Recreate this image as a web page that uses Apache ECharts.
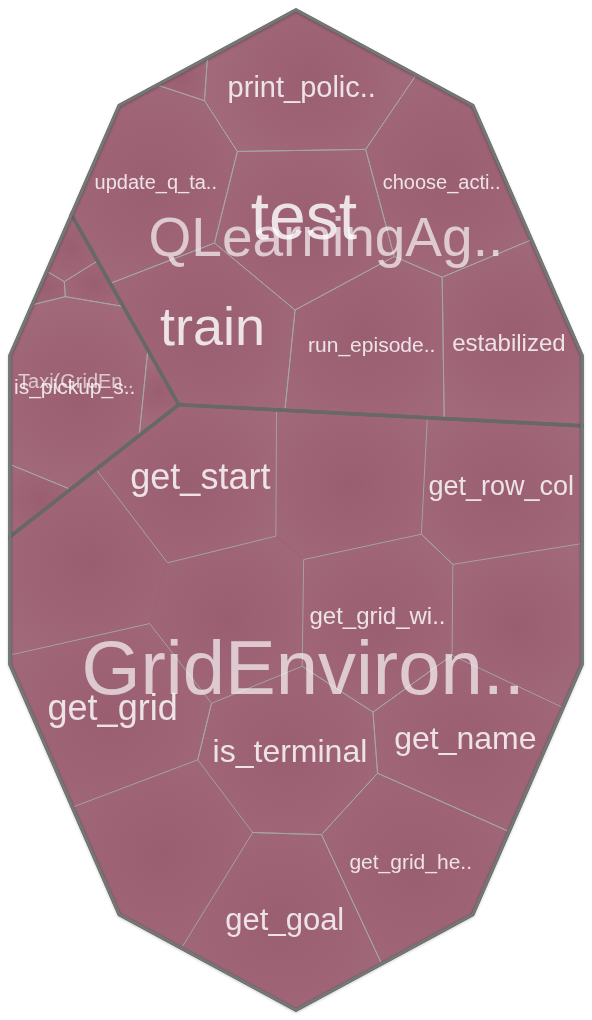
<!DOCTYPE html>
<html>
<head>
<meta charset="utf-8">
<script src="https://cdn.jsdelivr.net/npm/echarts@6/dist/echarts.min.js"></script>
<style>
  html, body { margin: 0; padding: 0; background: #ffffff; }
  #chart { width: 592px; height: 1020px; }
</style>
</head>
<body>
<div id="chart"></div>
<script>
// ------------------------------------------------------------------
// DATA (one size unit ~ one cell area)
// ------------------------------------------------------------------
const groupNames = ['QLearningAg..', 'GridEnviron..', 'Taxi(GridEn..'];

const qlearningNames  = ['', 'print_polic..', 'update_q_ta..', 'test', 'choose_acti..', 'estabilized', 'run_episode..', 'train'];
const qlearningValues = [1, 20, 21, 20, 20, 20, 20, 20];

const gridNames  = ['get_start', '', 'get_row_col', '', 'get_grid_wi..', 'get_name', 'is_terminal', 'get_grid', '', 'get_goal', 'get_grid_he..', '', ''];
const gridValues = [20, 19, 20, 16, 20, 20, 21, 23, 19, 21, 20, 19, 18];

const taxiNames  = ['', '', '', 'is_pickup_s..', '', ''];
const taxiValues = [1.6, 0.6, 1.4, 20.4, 1.5, 2.1];

// ------------------------------------------------------------------
// LAYOUT HINTS (initial generator positions for the Voronoi treemap,
// in view units; the algorithm then fits cell areas to the values)
// ------------------------------------------------------------------
const VIEW_W = 592, VIEW_H = 1020, MARGIN = 10;
const groupSeedHints = [[326, 241], [307, 672], [77, 378]];
const childSeedHints = [
  [[190, 81], [290, 92], [155, 178], [300, 221], [438, 182], [516, 341], [371, 332], [218, 328]],
  [[200, 475], [342, 491], [494, 496], [527, 626], [385, 615], [455, 736], [291, 755], [109, 703], [164, 854], [286, 918], [412, 864], [87, 567], [236, 607]],
  [[70, 254], [52, 286], [87, 283], [75, 375], [156, 393], [30, 493]]
];

// ------------------------------------------------------------------
// STYLES
// ------------------------------------------------------------------
const FONT = '"Liberation Sans", Arial, sans-serif';
const labelFontSize = {
  'QLearningAg..': 55, 'GridEnviron..': 76, 'Taxi(GridEn..': 20,
  'test': 66, 'train': 54, 'print_polic..': 29, 'update_q_ta..': 20, 'choose_acti..': 20,
  'run_episode..': 21, 'estabilized': 24, 'is_pickup_s..': 21,
  'get_start': 36, 'get_row_col': 27, 'get_grid_wi..': 24, 'get_grid': 36, 'is_terminal': 32,
  'get_name': 32, 'get_grid_he..': 21, 'get_goal': 31
};
// unlabeled large cells are drawn without an outline of their own
const OUTLINE_MIN_UNLABELED = 5;

// ------------------------------------------------------------------
// GEOMETRY: power diagram (weighted Voronoi) + Voronoi-map iteration
// ------------------------------------------------------------------
function polyArea(p) {
  let a = 0;
  for (let i = 0; i < p.length; i++) {
    const q = p[i], r = p[(i + 1) % p.length];
    a += q[0] * r[1] - r[0] * q[1];
  }
  return a / 2;
}
function polyCentroid(p) {
  let a = 0, cx = 0, cy = 0;
  for (let i = 0; i < p.length; i++) {
    const q = p[i], r = p[(i + 1) % p.length];
    const f = q[0] * r[1] - r[0] * q[1];
    a += f; cx += (q[0] + r[0]) * f; cy += (q[1] + r[1]) * f;
  }
  a /= 2;
  if (Math.abs(a) < 1e-9) {
    let sx = 0, sy = 0; p.forEach(v => { sx += v[0]; sy += v[1]; });
    return [sx / p.length, sy / p.length];
  }
  return [cx / (6 * a), cy / (6 * a)];
}
function clipHalfPlane(poly, a, b, c) {
  const out = [];
  for (let i = 0; i < poly.length; i++) {
    const P = poly[i], Q = poly[(i + 1) % poly.length];
    const fp = a * P[0] + b * P[1] - c, fq = a * Q[0] + b * Q[1] - c;
    if (fp <= 0) out.push(P);
    if ((fp < 0 && fq > 0) || (fp > 0 && fq < 0)) {
      const t = fp / (fp - fq);
      out.push([P[0] + t * (Q[0] - P[0]), P[1] + t * (Q[1] - P[1])]);
    }
  }
  return out;
}
function powerCells(clip, sites, w) {
  return sites.map((s, i) => {
    let poly = clip.slice();
    for (let j = 0; j < sites.length && poly.length; j++) {
      if (j === i) continue;
      const t = sites[j];
      const a = 2 * (t[0] - s[0]), b = 2 * (t[1] - s[1]);
      const c = (t[0] * t[0] + t[1] * t[1]) - (s[0] * s[0] + s[1] * s[1]) - w[j] + w[i];
      poly = clipHalfPlane(poly, a, b, c);
    }
    return poly;
  });
}
function fixOverweight(sites, w) {
  let fix, guard = 0;
  do {
    fix = 0;
    for (let i = 0; i < sites.length; i++) {
      for (let j = i + 1; j < sites.length; j++) {
        const dx = sites[i][0] - sites[j][0], dy = sites[i][1] - sites[j][1];
        const d2 = dx * dx + dy * dy;
        const h = w[i] > w[j] ? i : j, l = h === i ? j : i;
        if (w[h] - w[l] - d2 > 0) { w[h] = w[l] + d2 - 1e-6; fix++; }
      }
    }
  } while (fix > 0 && guard++ < 50);
}
function voronoiMap(clip, values, hints, iters) {
  const n = values.length;
  const A = Math.abs(polyArea(clip));
  const tot = values.reduce((a, b) => a + b, 0);
  const target = values.map(v => v / tot * A);
  const sites = hints.map(h => [h[0], h[1]]);
  const w = values.map(() => A / n / 2);
  let cells = powerCells(clip, sites, w);
  for (let it = 0; it < iters; it++) {
    for (let i = 0; i < n; i++) if (cells[i].length > 2) sites[i] = polyCentroid(cells[i]);
    fixOverweight(sites, w);
    cells = powerCells(clip, sites, w);
    for (let i = 0; i < n; i++) {
      const a = cells[i].length > 2 ? Math.abs(polyArea(cells[i])) : 0;
      let r = a > 0 ? Math.sqrt(target[i] / a) : 1.25;
      r = Math.min(1.25, Math.max(0.8, r));
      w[i] = Math.max(w[i] * r, 1e-6);
    }
    fixOverweight(sites, w);
    cells = powerCells(clip, sites, w);
  }
  return cells;
}
function decagon() {
  const cx = VIEW_W / 2, cy = VIEW_H / 2;
  const rx = (VIEW_W / 2 - MARGIN) / Math.cos(Math.PI / 10);
  const ry = VIEW_H / 2 - MARGIN;
  const pts = [];
  for (let k = 0; k < 10; k++) {
    const th = -Math.PI / 2 + k * Math.PI / 5;
    pts.push([cx + rx * Math.cos(th), cy + ry * Math.sin(th)]);
  }
  return pts;
}

// ------------------------------------------------------------------
// BUILD LAYOUT
// ------------------------------------------------------------------
const sum = a => a.reduce((x, y) => x + y, 0);
const childNames = [qlearningNames, gridNames, taxiNames];
const childValues = [qlearningValues, gridValues, taxiValues];
const outerPoly = decagon();
const groupValues = childValues.map(sum);
const groupCells = voronoiMap(outerPoly, groupValues, groupSeedHints, 150);
const leaves = [];
childValues.forEach((vals, g) => {
  const cells = voronoiMap(groupCells[g], vals, childSeedHints[g], 150);
  cells.forEach((poly, i) => {
    if (poly.length > 2) leaves.push({ name: childNames[g][i], value: vals[i], poly, c: polyCentroid(poly), group: g });
  });
});
const groups = groupCells.map((poly, g) => ({ name: groupNames[g], value: groupValues[g], poly, c: polyCentroid(poly) }));

// ------------------------------------------------------------------
// CHART
// ------------------------------------------------------------------
const chart = echarts.init(document.getElementById('chart'), null, { renderer: 'canvas' });

const cellFill = () => ({
  type: 'radial', x: 0.5, y: 0.5, r: 0.75,
  colorStops: [{ offset: 0, color: '#9a5e71' }, { offset: 1, color: '#a26a7b' }]
});

function polyItem(items, styleFn) {
  return function (params, api) {
    const it = items[params.dataIndex];
    return { type: 'polygon', shape: { points: it.poly.map(p => api.coord(p)) }, style: styleFn(it) };
  };
}
function textItem(items, color) {
  return function (params, api) {
    const it = items[params.dataIndex];
    const p = api.coord(it.c);
    return {
      type: 'text', x: p[0], y: p[1], silent: true,
      style: {
        text: it.name, fontFamily: FONT, fontSize: labelFontSize[it.name] || 14,
        fill: color, align: 'center', verticalAlign: 'middle'
      }
    };
  };
}
const labeledLeaves = leaves.filter(l => l.name);
// fill all cells first (with a same-colour seam stroke), then the outlines on top
const outlinedLeaves = leaves.filter(l => l.name || l.value < OUTLINE_MIN_UNLABELED);

chart.setOption({
  animation: false,
  backgroundColor: '#ffffff',
  grid: { left: 0, right: 0, top: 0, bottom: 0 },
  xAxis: { type: 'value', min: 0, max: VIEW_W, show: false },
  yAxis: { type: 'value', min: 0, max: VIEW_H, inverse: true, show: false },
  series: [
    {
      type: 'custom', z: 1, silent: true,
      data: leaves.map(l => l.c),
      renderItem: polyItem(leaves, () => ({ fill: cellFill(), stroke: '#9e6376', lineWidth: 1.5 }))
    },
    {
      type: 'custom', z: 2, silent: true,
      data: outlinedLeaves.map(l => l.c),
      renderItem: polyItem(outlinedLeaves, () => ({ fill: 'none', stroke: 'rgba(165,165,165,0.95)', lineWidth: 1 }))
    },
    {
      type: 'custom', z: 3, silent: true,
      data: groups.map(g => g.c),
      renderItem: polyItem(groups, () => ({ fill: 'none', stroke: '#686868', lineWidth: 3.5 }))
    },
    {
      type: 'custom', z: 4, silent: true,
      data: [[VIEW_W / 2, VIEW_H / 2]],
      renderItem: polyItem([{ poly: outerPoly }], () => ({
        fill: 'none', stroke: '#767676', lineWidth: 3,
        shadowColor: 'rgba(0,0,0,0.25)', shadowBlur: 3, shadowOffsetY: 1
      }))
    },
    {
      type: 'custom', z: 5, silent: true,
      data: labeledLeaves.map(l => l.c),
      renderItem: textItem(labeledLeaves, 'rgba(255,255,255,0.82)')
    },
    {
      type: 'custom', z: 6, silent: true,
      data: groups.map(g => g.c),
      renderItem: textItem(groups, 'rgba(255,255,255,0.66)')
    }
  ]
});
</script>
</body>
</html>
